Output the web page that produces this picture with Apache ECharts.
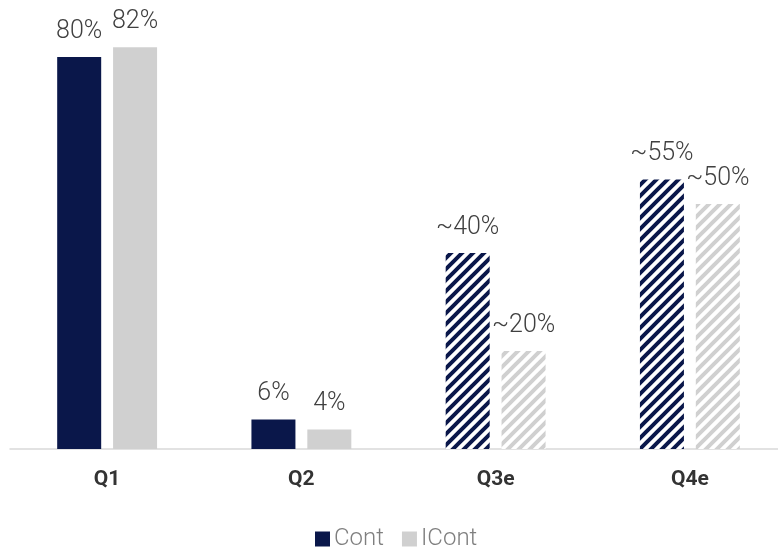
<!DOCTYPE html>
<html>
<head>
<meta charset="utf-8">
<script src="https://cdn.jsdelivr.net/npm/echarts@6/dist/echarts.min.js"></script>
<style>
html,body{margin:0;padding:0;background:#fff;}
#c{width:778px;height:549px;}
</style>
</head>
<body>
<div id="c"></div>
<script>
const categories = ['Q1', 'Q2', 'Q3e', 'Q4e'];
const contValues = [80, 6, 40, 55];
const icontValues = [82, 4, 20, 50];
const contLabels = ['80%', '6%', '~40%', '~55%'];
const icontLabels = ['82%', '4%', '~20%', '~50%'];
const estimated = [false, false, true, true];

const NAVY = '#0a174a';
const GREY = '#d0d0d0';

function hatch(color) {
  const s = 11;
  const c = document.createElement('canvas');
  c.width = s; c.height = s;
  const g = c.getContext('2d');
  g.fillStyle = '#ffffff';
  g.fillRect(0, 0, s, s);
  g.strokeStyle = color;
  g.lineWidth = 4;
  g.beginPath();
  for (let k = -1; k <= 1; k++) {
    g.moveTo(-2 + k * s, s + 2);
    g.lineTo(s + 2 + k * s, -2);
  }
  g.stroke();
  return { image: c, repeat: 'repeat' };
}

function makeData(vals, labels, color) {
  const pat = hatch(color);
  return vals.map((v, i) => ({
    value: v,
    label: { formatter: labels[i] },
    itemStyle: { color: estimated[i] ? pat : color }
  }));
}

const labelStyle = { show: true, position: 'top', distance: 13, color: '#404040', fontSize: 25, fontWeight: 300, fontFamily: 'Roboto' };

const chart = echarts.init(document.getElementById('c'));
chart.setOption({
  animation: false,
  backgroundColor: '#ffffff',
  textStyle: { fontFamily: 'Roboto' },
  grid: { left: 10, width: 777, top: 8, height: 441, containLabel: false, outerBoundsMode: 'none' },
  legend: {
    bottom: -7,
    left: 310,
    itemWidth: 15,
    itemHeight: 15,
    itemGap: 18,
    icon: 'rect',
    textStyle: { color: '#7f7f7f', fontSize: 24, fontWeight: 300, fontFamily: 'Roboto', padding: [0, 0, 0, -1] },
    data: ['Cont', 'ICont']
  },
  xAxis: {
    type: 'category',
    data: categories,
    axisLine: { show: true, lineStyle: { color: '#d9d9d9', width: 1.5 } },
    axisTick: { show: false },
    axisLabel: { color: '#333333', fontSize: 21, fontWeight: 'bold', margin: 20, fontFamily: 'Roboto' }
  },
  yAxis: {
    type: 'value',
    min: 0,
    max: 90,
    show: false,
    splitLine: { show: false }
  },
  series: [
    {
      name: 'Cont',
      type: 'bar',
      barWidth: 44,
      barGap: '27%',
      itemStyle: { color: NAVY },
      label: labelStyle,
      data: makeData(contValues, contLabels, NAVY)
    },
    {
      name: 'ICont',
      type: 'bar',
      barWidth: 44,
      itemStyle: { color: GREY },
      label: labelStyle,
      data: makeData(icontValues, icontLabels, GREY)
    }
  ]
});
</script>
</body>
</html>
